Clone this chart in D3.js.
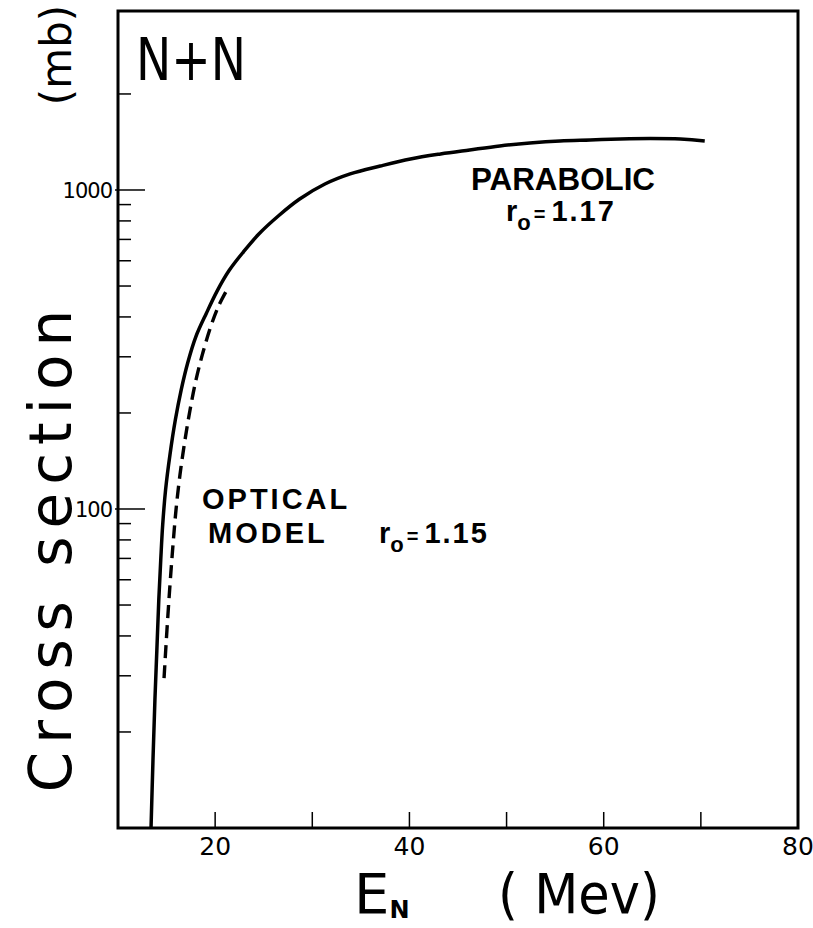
<!DOCTYPE html>
<html>
<head>
<meta charset="utf-8">
<script src="https://cdn.jsdelivr.net/npm/d3@7"></script>
<style>
  html, body { margin: 0; padding: 0; background: #fff; }
  svg { display: block; }
</style>
</head>
<body>
<svg id="chart" width="813" height="928"></svg>
<script>
// N+N cross section vs neutron energy (parabolic potential, r0 = 1.17)
const solidEnergy = [13.4, 13.6, 13.8, 14.0, 14.2, 14.4, 14.6, 14.9, 15.35, 15.9, 16.5, 17.2, 18.0, 19.1, 20.2, 21.4, 22.9, 24.5, 26.5, 28.7, 31.3, 33.9, 37.0, 40.1, 43.2, 46.2, 49.3, 52.4, 55.5, 58.6, 61.7, 64.8, 67.9, 70.4];
const solidSigma = [10, 16.3, 25.2, 36.1, 51.9, 69.2, 89.1, 115, 148, 190, 236, 289, 346, 411, 482, 557, 639, 728, 829, 937, 1044, 1123, 1189, 1251, 1297, 1335, 1374, 1404, 1425, 1435, 1445, 1450, 1445, 1425];

// optical model (dashed)
const dashEnergy = [14.74, 15.04, 15.35, 15.66, 15.97, 16.38, 16.9, 17.41, 18.03, 18.75, 19.57, 20.4, 21.32];
const dashSigma = [29.5, 41.8, 57.8, 77.1, 99.3, 128, 165, 204, 254, 310, 375, 436, 493];

const xTicks = [20, 30, 40, 50, 60, 70];
const xTickLabels = [20, 40, 60, 80];
const yMajorTicks = [100, 1000];
const yMinorTicks = [20, 30, 40, 50, 60, 70, 80, 90, 200, 300, 400, 500, 600, 700, 800, 900, 2000];

const svg = d3.select("#chart");
const plot = { left: 118, right: 798, top: 11, bottom: 828 };

const x = d3.scaleLinear().domain([10, 80]).range([plot.left, plot.right]);
const y = d3.scaleLog().domain([10, 3640]).range([plot.bottom, plot.top]);

const axisFont = "'DejaVu Sans', sans-serif";
const labelFont = "'Liberation Sans', Arial, sans-serif";

svg.append("rect").attr("width", 813).attr("height", 928).attr("fill", "#fff");

// frame
svg.append("rect")
    .attr("x", plot.left).attr("y", plot.top)
    .attr("width", plot.right - plot.left).attr("height", plot.bottom - plot.top)
    .attr("fill", "none")
    .attr("stroke", "#000")
    .attr("stroke-width", 3);

// x ticks (inside, pointing up)
svg.append("g")
    .selectAll("line")
    .data(xTicks)
    .join("line")
    .attr("x1", d => x(d)).attr("x2", d => x(d))
    .attr("y1", plot.bottom).attr("y2", plot.bottom - 16)
    .attr("stroke", "#000").attr("stroke-width", 1.5);

svg.append("g")
    .selectAll("text")
    .data(xTickLabels)
    .join("text")
    .attr("x", d => x(d))
    .attr("y", plot.bottom + 27)
    .attr("text-anchor", "middle")
    .style("font-family", axisFont)
    .style("font-size", "25px")
    .text(d => d);

// y ticks
svg.append("g")
    .selectAll("line")
    .data(yMajorTicks)
    .join("line")
    .attr("x1", plot.left - 3).attr("x2", plot.left + 27)
    .attr("y1", d => y(d)).attr("y2", d => y(d))
    .attr("stroke", "#000").attr("stroke-width", 1.5);

svg.append("g")
    .selectAll("line")
    .data(yMinorTicks)
    .join("line")
    .attr("x1", plot.left).attr("x2", plot.left + 13)
    .attr("y1", d => y(d)).attr("y2", d => y(d))
    .attr("stroke", "#000").attr("stroke-width", 1.5);

svg.append("g")
    .selectAll("text")
    .data(yMajorTicks)
    .join("text")
    .attr("x", plot.left - 6)
    .attr("y", d => y(d) + 8)
    .attr("text-anchor", "end")
    .style("font-family", axisFont)
    .style("font-size", "21px")
    .style("letter-spacing", "-1px")
    .text(d => d);

// curves
const line = d3.line()
    .x(d => x(d[0]))
    .y(d => y(d[1]))
    .curve(d3.curveCatmullRom.alpha(0.5));

svg.append("path")
    .datum(solidEnergy.map((e, i) => [e, solidSigma[i]]))
    .attr("d", line)
    .attr("fill", "none")
    .attr("stroke", "#000")
    .attr("stroke-width", 3.5);

svg.append("path")
    .datum(dashEnergy.map((e, i) => [e, dashSigma[i]]))
    .attr("d", line)
    .attr("fill", "none")
    .attr("stroke", "#000")
    .attr("stroke-width", 3.4)
    .attr("stroke-dasharray", "13,7");

// axis titles
svg.append("text")
    .attr("transform", "translate(71,547) rotate(-90)")
    .attr("text-anchor", "middle")
    .style("font-family", axisFont)
    .style("font-size", "58px")
    .style("letter-spacing", "8px")
    .text("Cross  section");

svg.append("text")
    .attr("transform", "translate(71,55) rotate(-90)")
    .attr("text-anchor", "middle")
    .style("font-family", axisFont)
    .style("font-size", "42px")
    .text("(mb)");

const xt = svg.append("text")
    .attr("x", 354)
    .attr("y", 913)
    .style("font-family", axisFont)
    .style("font-size", "56px");
xt.append("tspan").text("E");
xt.append("tspan").attr("dy", 5).style("font-size", "24px").style("font-weight", "bold").text("N");
xt.append("tspan").attr("x", 498).attr("dy", -5)
    .attr("textLength", 162).attr("lengthAdjust", "spacingAndGlyphs")
    .text("( Mev)");

svg.append("text")
    .attr("x", 136)
    .attr("y", 80)
    .attr("textLength", 110)
    .attr("lengthAdjust", "spacingAndGlyphs")
    .style("font-family", axisFont)
    .style("font-size", "58px")
    .text("N+N");

// annotations
svg.append("text")
    .attr("x", 471).attr("y", 190)
    .attr("textLength", 184)
    .attr("lengthAdjust", "spacingAndGlyphs")
    .style("font-family", labelFont)
    .style("font-weight", "bold")
    .style("font-size", "32px")
    .text("PARABOLIC");

// r0 = value, with the "o" set as a subscript
function rLabel(x0, y0, value) {
    const t = svg.append("text")
        .attr("x", x0).attr("y", y0)
        .style("font-family", labelFont)
        .style("font-weight", "bold")
        .style("font-size", "29px");
    t.append("tspan").text("r");
    t.append("tspan").attr("dy", 9).style("font-size", "22px").text("o");
    t.append("tspan").attr("dx", 3).attr("dy", -9).style("font-size", "20px").text("=");
    t.append("tspan").attr("dx", 6).style("font-size", "29px").style("letter-spacing", "2px").text(value);
}
rLabel(506, 221, "1.17");
rLabel(379, 543, "1.15");

svg.append("text")
    .attr("x", 202).attr("y", 509)
    .style("font-family", labelFont)
    .style("font-weight", "bold")
    .style("font-size", "29px")
    .style("letter-spacing", "3px")
    .text("OPTICAL");

svg.append("text")
    .attr("x", 208).attr("y", 543)
    .style("font-family", labelFont)
    .style("font-weight", "bold")
    .style("font-size", "29px")
    .style("letter-spacing", "3px")
    .text("MODEL");
</script>
</body>
</html>
